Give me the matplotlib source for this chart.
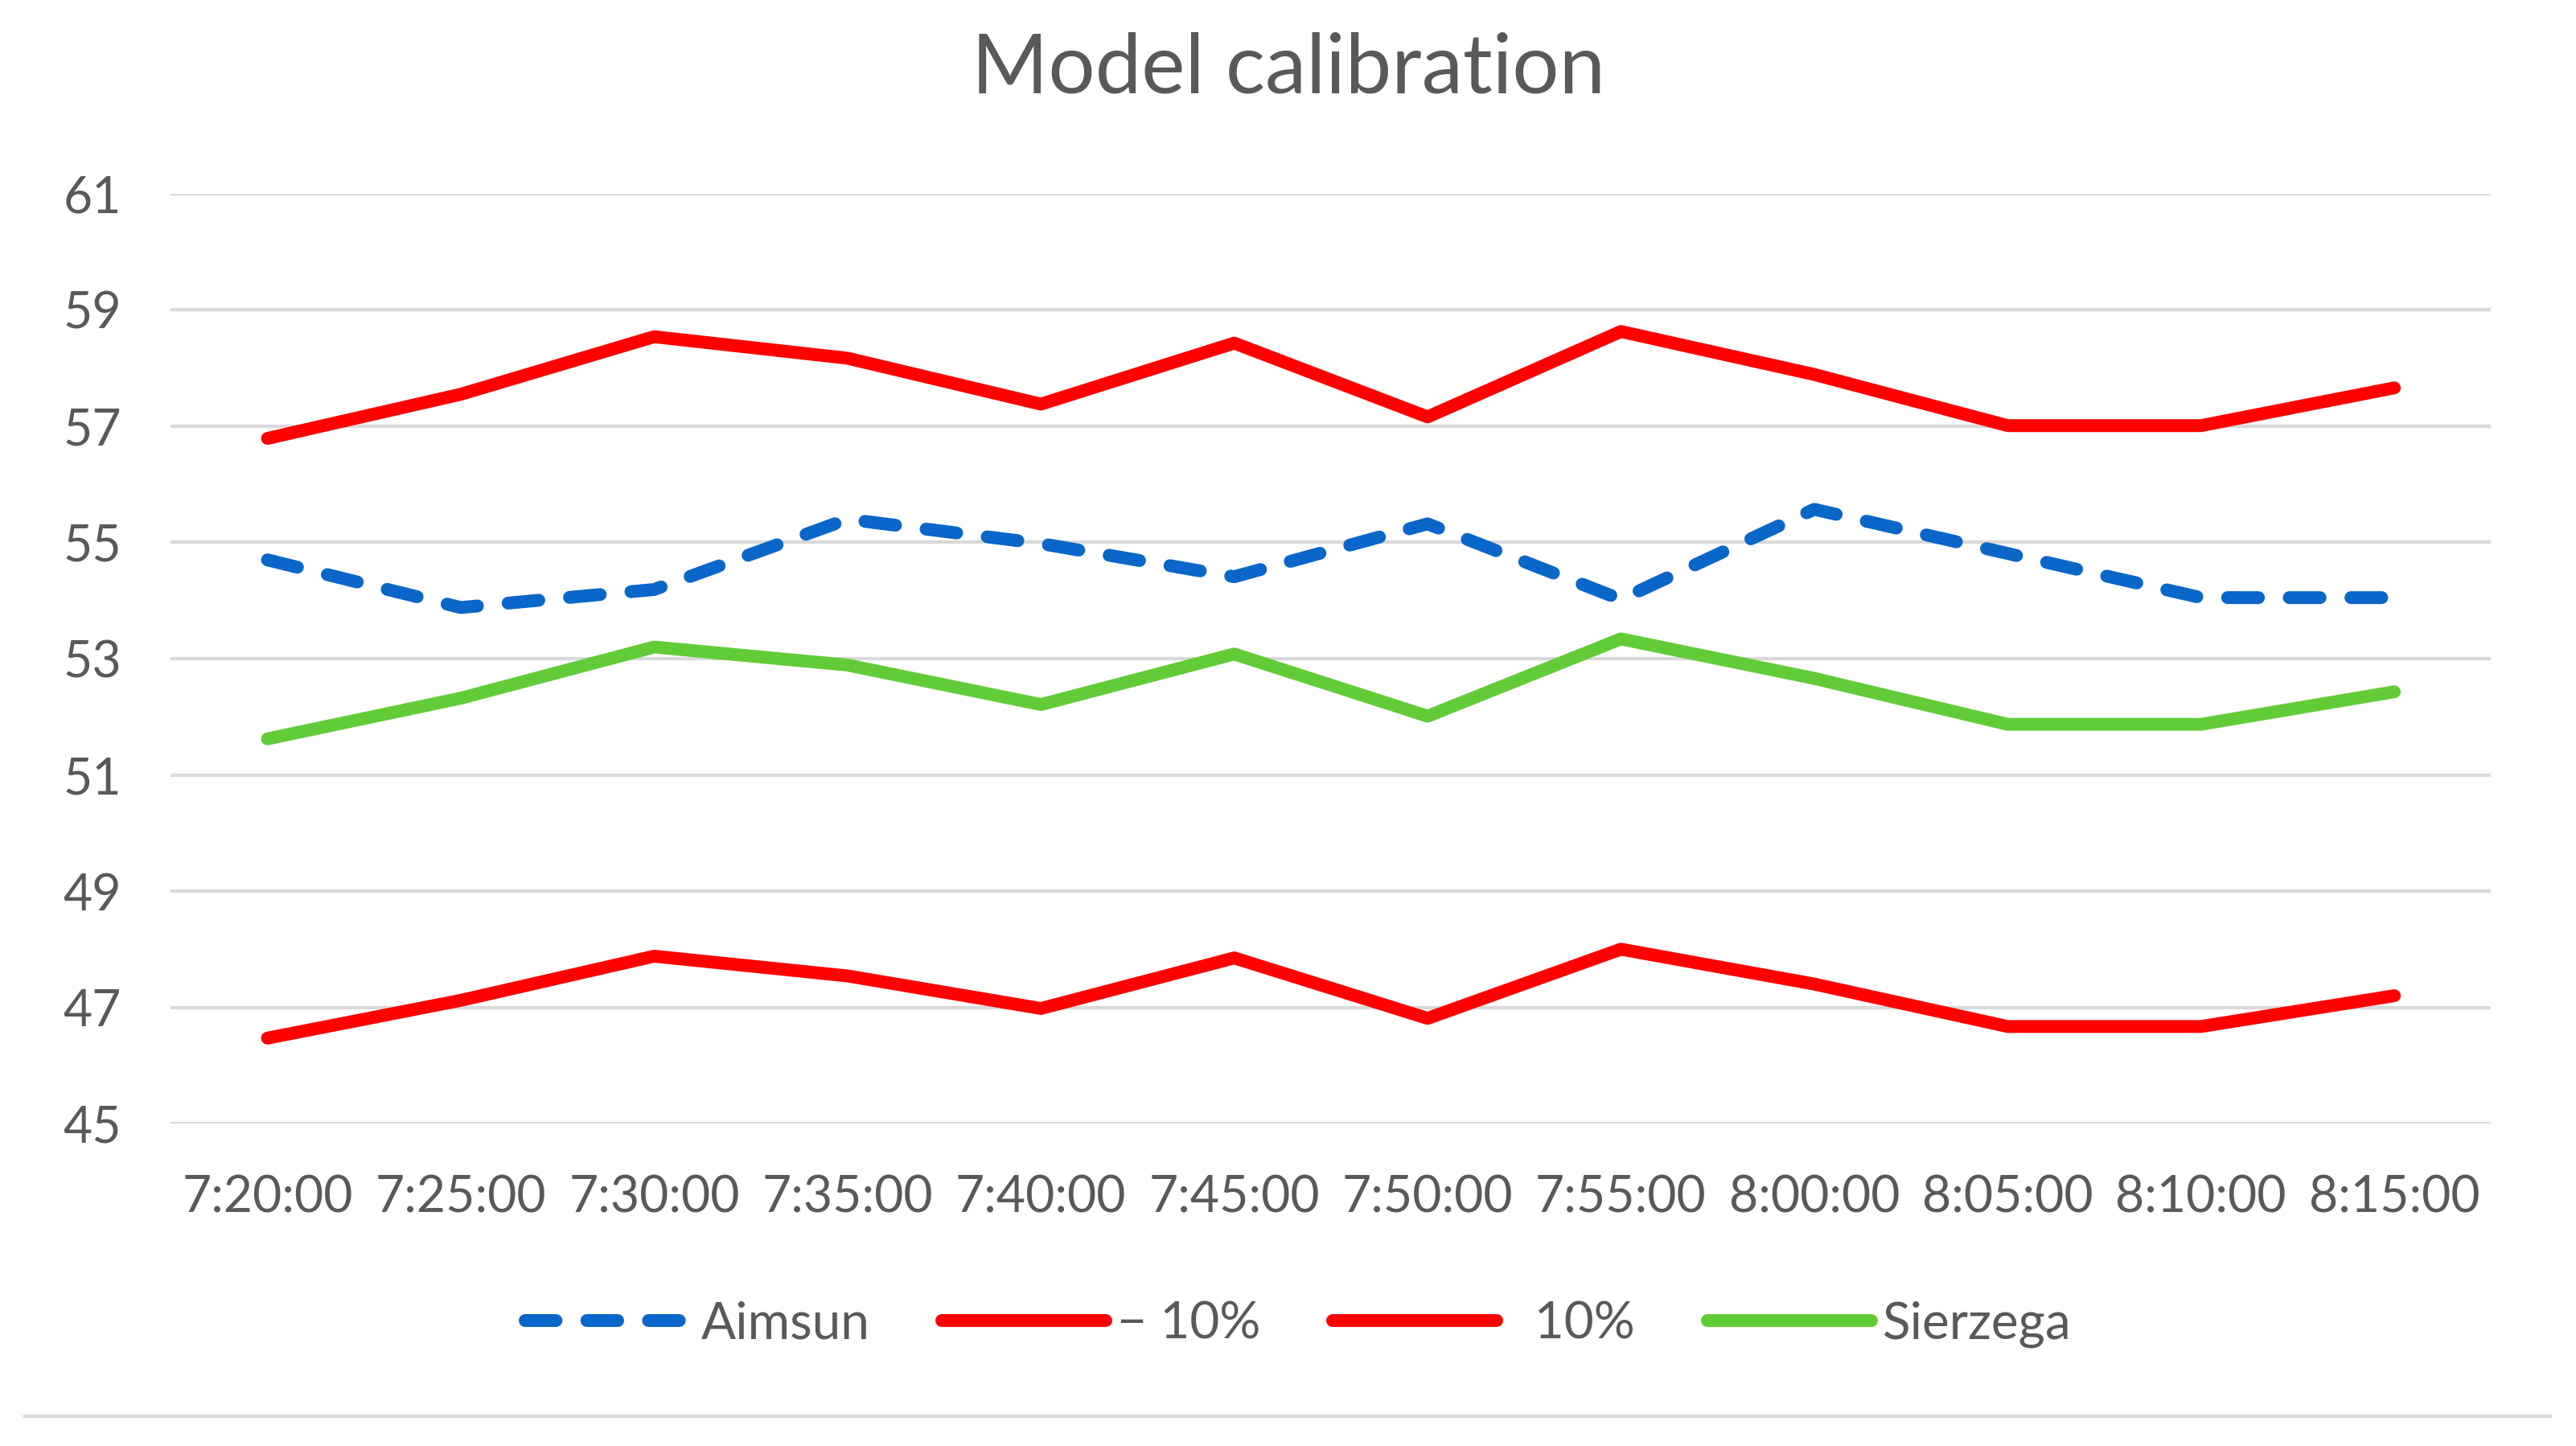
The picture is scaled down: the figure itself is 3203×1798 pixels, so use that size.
import matplotlib.pyplot as plt
from matplotlib.lines import Line2D

plt.rcParams['font.family'] = ['Lato', 'DejaVu Sans']

# Data
times = ["7:20:00", "7:25:00", "7:30:00", "7:35:00", "7:40:00", "7:45:00",
         "7:50:00", "7:55:00", "8:00:00", "8:05:00", "8:10:00", "8:15:00"]
aimsun = [54.70, 53.88, 54.19, 55.40, 54.98, 54.41, 55.32, 54.02, 55.57, 54.81, 54.05, 54.05]
minus10 = [46.47, 47.12, 47.88, 47.54, 46.98, 47.85, 46.81, 48.00, 47.40, 46.67, 46.67, 47.20]
plus10 = [56.79, 57.55, 58.54, 58.17, 57.38, 58.43, 57.16, 58.63, 57.89, 57.01, 57.01, 57.66]
sierzega = [51.62, 52.32, 53.20, 52.89, 52.21, 53.08, 52.01, 53.34, 52.66, 51.87, 51.87, 52.43]
yticks = [45, 47, 49, 51, 53, 55, 57, 59, 61]

text_col = '#595959'
grid_col = '#D9D9D9'
lw = 11.5

fig = plt.figure(figsize=(32.03, 17.98), dpi=100)
ax = fig.add_axes([0.0663, 0.223, 0.9007, 0.643])

x = range(len(times))
ax.plot(x, aimsun, color='#0A66C8', lw=lw, dashes=(2.4, 2.4),
        dash_capstyle='round', solid_joinstyle='round', label='Aimsun')
ax.plot(x, minus10, color='#FF0000', lw=lw, solid_joinstyle='round',
        solid_capstyle='round', label='\u2212 10%')
ax.plot(x, plus10, color='#FF0000', lw=lw, solid_joinstyle='round',
        solid_capstyle='round', label='  10%')
ax.plot(x, sierzega, color='#62CC38', lw=lw, solid_joinstyle='round',
        solid_capstyle='round', label='Sierzega')

ax.set_xlim(-0.5, len(times) - 0.5)
ax.set_ylim(45, 61)
ax.set_yticks(yticks)
ax.set_xticks(list(x))
ax.set_xticklabels(times)
ax.grid(axis='y', color=grid_col, lw=3)
ax.set_axisbelow(True)
for s in ax.spines.values():
    s.set_visible(False)
ax.tick_params(axis='both', length=0, labelsize=45, labelcolor=text_col)
ax.tick_params(axis='y', pad=44)
ax.tick_params(axis='x', pad=46)

fig.text(0.5, 0.952, 'Model calibration', ha='center', va='center',
         fontsize=74, color=text_col)

leg = fig.legend(loc='center', bbox_to_anchor=(0.504, 0.084), ncol=4,
                 frameon=False, fontsize=46, handlelength=3.2,
                 handletextpad=0.22, columnspacing=1.4)
for t in leg.get_texts():
    t.set_color(text_col)

# bottom border line of the chart area
fig.add_artist(Line2D([0.0096, 0.99], [0.0205, 0.0205], color=grid_col, lw=3,
                      transform=fig.transFigure))

fig.savefig('out.png', dpi=100, facecolor='white')
